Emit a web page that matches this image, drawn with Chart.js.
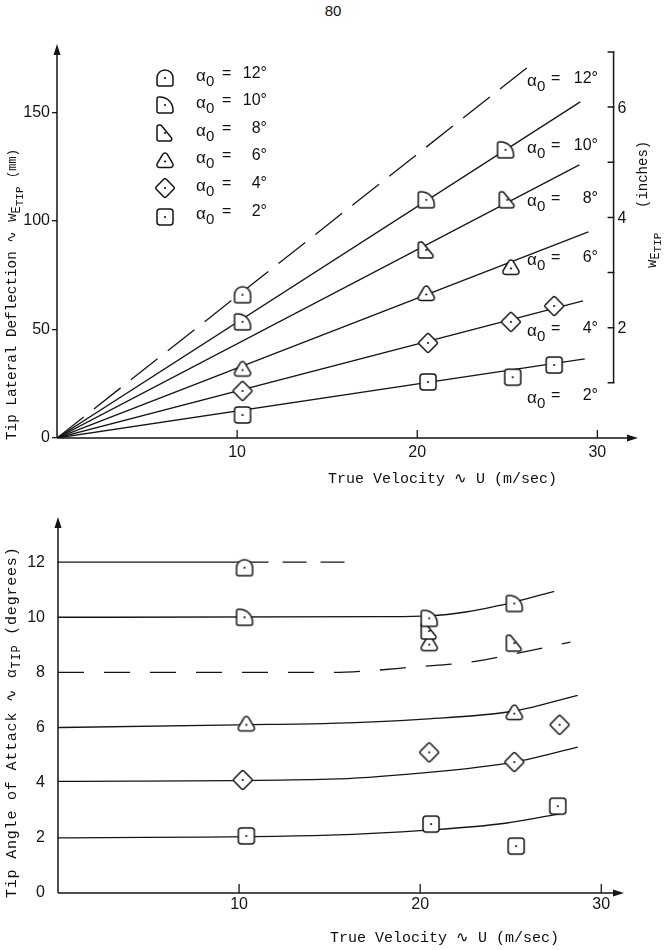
<!DOCTYPE html>
<html>
<head>
<meta charset="utf-8">
<script src="https://cdn.jsdelivr.net/npm/chart.js@4.4.0/dist/chart.umd.min.js"></script>
<style>
  html, body { margin: 0; padding: 0; background: #fff; }
  #page { position: relative; width: 666px; height: 950px; overflow: hidden; background: #fff; color: #111; }
  canvas.ch { position: absolute; left: 0; }
  #topChart { top: 0; }
  #botChart { top: 480px; }
  .t { position: absolute; white-space: nowrap; font-family: "Liberation Mono", monospace; font-size: 15px; line-height: 18px; }
  .rot { transform-origin: 0 0; transform: rotate(-90deg); }
  .t sub { font-size: 12px; vertical-align: -4px; }
  .t sub sub { font-size: 11px; vertical-align: -3px; }
  .al { position: absolute; white-space: nowrap; font-family: "Liberation Sans", Arial, sans-serif; font-size: 16px; line-height: 20px; height: 20px; }
  .al span { display: inline-block; position: relative; }
  .al .g { width: 10px; top: 3px; font-size: 17px; }
  .al .s { width: 14px; top: 8px; font-size: 15px; }
  .al .eq { width: 20px; }
  .al .v { width: 27px; text-align: right; }
  .lg .s { width: 16px; }
  .lg .v { width: 25px; }
  canvas.mk { position: absolute; }
</style>
</head>
<body>
<div id="page">
  <div class="t" style="left:0;width:666px;top:2px;text-align:center;font-family:'Liberation Sans',sans-serif;">80</div>
  <canvas id="topChart" class="ch" width="666" height="480"></canvas>
  <canvas id="botChart" class="ch" width="666" height="470"></canvas>

  <!-- axis titles -->
  <div class="t rot" style="left:3px;top:440px;font-size:14.3px;">Tip Lateral Deflection &#8767; w<sub>E<sub>TIP</sub></sub> <span style="font-size:12px;">(mm)</span></div>
  <div class="t" style="left:328px;top:471px;">True Velocity &#8767; U (m/sec)</div>
  <div class="t rot" style="left:634px;top:208px;font-size:14px;">(inches)</div>
  <div class="t rot" style="left:645px;top:268px;font-size:14px;line-height:14px;">w<sub style="vertical-align:-3px;">E<sub style="vertical-align:-2px;">TIP</sub></sub></div>
  <div class="t rot" style="left:4px;top:898px;letter-spacing:0.8px;">Tip Angle of Attack &#8767; &alpha;<sub>TIP</sub> (degrees)</div>
  <div class="t" style="left:330px;top:930px;">True Velocity &#8767; U (m/sec)</div>

  <div id="labels"></div>
</div>

<script>
// ---- categories ----
const alphaNames = ['12°', '10°', '8°', '6°', '4°', '2°'];
const markerKinds = ['dome', 'quarter', 'wedge', 'tri', 'diamond', 'square'];

// ---- tick labels ----
const uTicks = [10, 20, 30];
const wTicks = [0, 50, 100, 150];
const inchTicks = [1, 2, 3, 4, 5, 6, 7];
const inchLabels = [2, 4, 6];
const aTicks = [0, 2, 4, 6, 8, 10, 12];
const mmPerInch = 25.4;

// ---- top panel: measured tip deflection (mm) vs U (m/s) ----
const topU12 = [10.3];                    const topW12 = [66];
const topU10 = [10.3, 20.5, 24.9];        const topW10 = [53.5, 109.7, 132.7];
const topU8  = [20.5, 25.0];              const topW8  = [86.6, 109.7];
const topU6  = [10.3, 20.5, 25.2];        const topW6  = [32, 66.8, 78.8];
const topU4  = [10.3, 20.6, 25.2, 27.6];  const topW4  = [21.7, 43.8, 53.5, 60.8];
const topU2  = [10.3, 20.6, 25.3, 27.6];  const topW2  = [10.6, 25.8, 28, 33.6];

// ---- top panel: theory lines ----
const lineU12 = [0, 26.3];  const lineW12 = [0, 171.9];
const lineU10 = [0, 29.05]; const lineW10 = [0, 154.8];
const lineU8  = [0, 29.0];  const lineW8  = [0, 125.8];
const lineU6  = [0, 29.5];  const lineW6  = [0, 94.9];
const lineU4  = [0, 29.2];  const lineW4  = [0, 63.1];
const lineU2  = [0, 29.3];  const lineW2  = [0, 36.4];

// ---- bottom panel: measured tip angle (deg) vs U (m/s) ----
const botU12 = [10.3];                    const botA12 = [11.8];
const botU10 = [10.3, 20.5, 25.2];        const botA10 = [10.0, 9.96, 10.5];
const botU8  = [20.5, 25.2];              const botA8  = [9.5, 9.06];
const botU6  = [10.4, 20.5, 25.2];        const botA6  = [6.15, 9.06, 6.56];
const botU4  = [10.2, 20.5, 25.2, 27.7];  const botA4  = [4.1, 5.1, 4.75, 6.1];
const botU2  = [10.4, 20.6, 25.3, 27.6];  const botA2  = [2.07, 2.5, 1.7, 3.15];

// ---- bottom panel: theory curves ----
const curveU12s = [0, 10.3];              const curveA12s = [12, 12];
const curveU12d = [10.3, 15.9];           const curveA12d = [12, 12];
const curveU10 = [0, 18, 20.5, 22.6, 24.4, 25.2, 27.4]; const curveA10 = [10, 10.02, 10.05, 10.2, 10.43, 10.55, 10.94];
const curveU8  = [0, 15, 17, 19.7, 22.7, 25.1, 28.3];   const curveA8  = [8, 8.0, 8.05, 8.2, 8.37, 8.66, 9.1];
const curveU6  = [0, 10, 15, 20, 25.2, 28.7];           const curveA6  = [6.0, 6.1, 6.15, 6.3, 6.6, 7.17];
const curveU4  = [0, 15, 20, 25.2, 28.7];               const curveA4  = [4.05, 4.13, 4.35, 4.75, 5.29];
const curveU2  = [0, 15, 20.4, 24.7, 27.9];             const curveA2  = [2.0, 2.1, 2.28, 2.53, 2.9];

const pts = (xs, ys) => xs.map((x, i) => ({ x: x, y: ys[i] }));
const INK = '#151515';

// --- marker glyphs (drawn once, used as pointStyle images) ---
function polyPath(g, p, r) {
    const n = p.length;
    const s = [(p[n - 1][0] + p[0][0]) / 2, (p[n - 1][1] + p[0][1]) / 2];
    g.moveTo(s[0], s[1]);
    for (let i = 0; i < n; i++) {
        const c = p[i], nx = p[(i + 1) % n];
        g.arcTo(c[0], c[1], nx[0], nx[1], r);
    }
    g.closePath();
}

function makeMarker(kind) {
    const c = document.createElement('canvas');
    c.width = 26; c.height = 26;
    const g = c.getContext('2d');
    const m = 13, h = 8;
    g.lineWidth = 1.5; g.strokeStyle = INK; g.fillStyle = '#fff'; g.lineJoin = 'round';
    g.beginPath();
    if (kind === 'dome') g.roundRect(m - h, m - h, 2 * h, 2 * h, [h, h, 2, 2]);
    else if (kind === 'quarter') g.roundRect(m - h, m - h, 2 * h, 2 * h, [2, 13, 2, 2]);
    else if (kind === 'wedge') polyPath(g, [[m - h, m - h], [m - h + 4, m - h], [m + h + 1, m + h], [m - h, m + h]], 2);
    else if (kind === 'tri') polyPath(g, [[m, m - h - 1.5], [m + h + 2, m + h - 0.5], [m - h - 2, m + h - 0.5]], 2.5);
    else if (kind === 'diamond') polyPath(g, [[m, m - 10], [m + 10, m], [m, m + 10], [m - 10, m]], 1.5);
    else g.roundRect(m - h, m - h, 2 * h, 2 * h, 3);
    g.fill(); g.stroke();
    g.fillStyle = INK;
    g.beginPath(); g.arc(m, kind === 'tri' ? m + 1.5 : m, 1.1, 0, Math.PI * 2); g.fill();
    return c;
}

const markerImgs = markerKinds.map(makeMarker);

// --- axis lines, arrowheads, inward ticks and the inch axis ---
const axisDeco = {
    id: 'axisDeco',
    afterDraw(chart, args, opts) {
        const { ctx, chartArea: a, scales: { x, y } } = chart;
        ctx.save();
        ctx.strokeStyle = INK; ctx.fillStyle = INK; ctx.lineWidth = 1.5;
        ctx.beginPath();
        ctx.moveTo(a.left, a.bottom); ctx.lineTo(a.left, a.top + 6);
        ctx.moveTo(a.left, a.bottom); ctx.lineTo(a.right - 6, a.bottom);
        ctx.stroke();
        ctx.beginPath();
        ctx.moveTo(a.left, a.top - 1); ctx.lineTo(a.left - 3.5, a.top + 10); ctx.lineTo(a.left + 3.5, a.top + 10);
        ctx.closePath(); ctx.fill();
        ctx.beginPath();
        ctx.moveTo(a.right + 1, a.bottom); ctx.lineTo(a.right - 10, a.bottom - 3.5); ctx.lineTo(a.right - 10, a.bottom + 3.5);
        ctx.closePath(); ctx.fill();

        ctx.lineWidth = 1.3;
        ctx.beginPath();
        uTicks.forEach(v => {
            const px = x.getPixelForValue(v);
            ctx.moveTo(px, a.bottom); ctx.lineTo(px, a.bottom - opts.tick);
        });
        ctx.stroke();

        if (opts.inchAxisU) {
            const px = x.getPixelForValue(opts.inchAxisU);
            const yTop = y.getPixelForValue(inchTicks[inchTicks.length - 1] * mmPerInch);
            const yBot = y.getPixelForValue(inchTicks[0] * mmPerInch);
            ctx.lineWidth = 1.5;
            ctx.beginPath();
            ctx.moveTo(px, yTop); ctx.lineTo(px, yBot);
            inchTicks.forEach(n => {
                const py = y.getPixelForValue(n * mmPerInch);
                ctx.moveTo(px - 6, py); ctx.lineTo(px + 1, py);
            });
            ctx.stroke();
            ctx.font = '16px "Liberation Sans", Arial, sans-serif';
            ctx.textAlign = 'left'; ctx.textBaseline = 'middle';
            inchLabels.forEach(n => ctx.fillText(String(n), px + 4, y.getPixelForValue(n * mmPerInch) + 1));
        }
        ctx.restore();
    }
};

const tickFont = { family: '"Liberation Sans", Arial, sans-serif', size: 16 };

function markerSets(us, vs) {
    return us.map((u, i) => ({
        type: 'scatter',
        data: pts(u, vs[i]),
        pointStyle: markerImgs[i],
        pointRadius: 8,
        pointHoverRadius: 8,
        showLine: false
    }));
}

function lineSet(u, v, dash, smooth) {
    return {
        type: 'line',
        data: pts(u, v),
        borderColor: INK,
        borderWidth: 1.3,
        borderDash: dash || [],
        pointRadius: 0,
        fill: false,
        tension: 0,
        cubicInterpolationMode: smooth ? 'monotone' : 'default'
    };
}

// --- top chart: deflection ---
new Chart(document.getElementById('topChart'), {
    type: 'scatter',
    data: {
        datasets: [
            ...markerSets([topU12, topU10, topU8, topU6, topU4, topU2], [topW12, topW10, topW8, topW6, topW4, topW2]),
            lineSet(lineU12, lineW12, [34, 13]),
            lineSet(lineU10, lineW10),
            lineSet(lineU8, lineW8),
            lineSet(lineU6, lineW6),
            lineSet(lineU4, lineW4),
            lineSet(lineU2, lineW2)
        ]
    },
    options: {
        responsive: false,
        animation: false,
        layout: { padding: { left: 0, right: 29, top: 45, bottom: 0 } },
        plugins: { legend: { display: false }, tooltip: { enabled: false }, axisDeco: { tick: 8, inchAxisU: 30.9 } },
        scales: {
            x: {
                type: 'linear', min: 0, max: 32.2,
                border: { display: false },
                grid: { display: false, drawTicks: false },
                afterBuildTicks: s => { s.ticks = uTicks.map(v => ({ value: v })); },
                ticks: { font: tickFont, color: INK, padding: 5, maxRotation: 0 },
                afterFit: s => { s.height = 42; }
            },
            y: {
                type: 'linear', min: 0, max: 181,
                border: { display: false },
                grid: { drawOnChartArea: false, drawTicks: true, tickLength: 5, color: INK, lineWidth: 1.3 },
                afterBuildTicks: s => { s.ticks = wTicks.map(v => ({ value: v })); },
                ticks: { font: tickFont, color: INK, padding: 2 },
                afterFit: s => { s.width = 57; }
            }
        }
    },
    plugins: [axisDeco]
});

// --- bottom chart: tip angle ---
new Chart(document.getElementById('botChart'), {
    type: 'scatter',
    data: {
        datasets: [
            ...markerSets([botU12, botU10, botU8, botU6, botU4, botU2], [botA12, botA10, botA8, botA6, botA4, botA2]),
            lineSet(curveU12s, curveA12s),
            lineSet(curveU12d, curveA12d, [24, 14]),
            lineSet(curveU10, curveA10, null, true),
            lineSet(curveU8, curveA8, [26, 20], true),
            lineSet(curveU6, curveA6, null, true),
            lineSet(curveU4, curveA4, null, true),
            lineSet(curveU2, curveA2, null, true)
        ]
    },
    options: {
        responsive: false,
        animation: false,
        layout: { padding: { left: 0, right: 43, top: 38, bottom: 0 } },
        plugins: { legend: { display: false }, tooltip: { enabled: false }, axisDeco: { tick: 9 } },
        scales: {
            x: {
                type: 'linear', min: 0, max: 31.2,
                border: { display: false },
                grid: { display: false, drawTicks: false },
                afterBuildTicks: s => { s.ticks = uTicks.map(v => ({ value: v })); },
                ticks: { font: tickFont, color: INK, padding: 2, maxRotation: 0 },
                afterFit: s => { s.height = 57; }
            },
            y: {
                type: 'linear', min: 0, max: 13.6,
                border: { display: false },
                grid: { display: false, drawTicks: false },
                afterBuildTicks: s => { s.ticks = aTicks.map(v => ({ value: v })); },
                ticks: { font: tickFont, color: INK, padding: 13 },
                afterFit: s => { s.width = 58; }
            }
        }
    },
    plugins: [axisDeco]
});

// --- legend and line labels (HTML text) ---
const labelBox = document.getElementById('labels');
function alphaLabel(name, left, top, extra) {
    const d = document.createElement('div');
    d.className = 'al' + (extra ? ' ' + extra : '');
    d.style.left = left + 'px';
    d.style.top = top + 'px';
    d.innerHTML = '<span class="g">α</span><span class="s">0</span><span class="eq">=</span><span class="v">' + name + '</span>';
    labelBox.appendChild(d);
}
const legendTextTops = [63, 90, 118, 145, 173, 201];
const legendMarkTops = [65, 92, 120, 147, 175, 204];
const lineLabelTops = [68, 135, 188, 247, 318, 385];
alphaNames.forEach((name, i) => {
    alphaLabel(name, 196, legendTextTops[i], 'lg');
    alphaLabel(name, 527, lineLabelTops[i]);
    const mk = makeMarker(markerKinds[i]);
    mk.className = 'mk';
    mk.style.left = '152px';
    mk.style.top = legendMarkTops[i] + 'px';
    labelBox.appendChild(mk);
});
</script>
</body>
</html>
